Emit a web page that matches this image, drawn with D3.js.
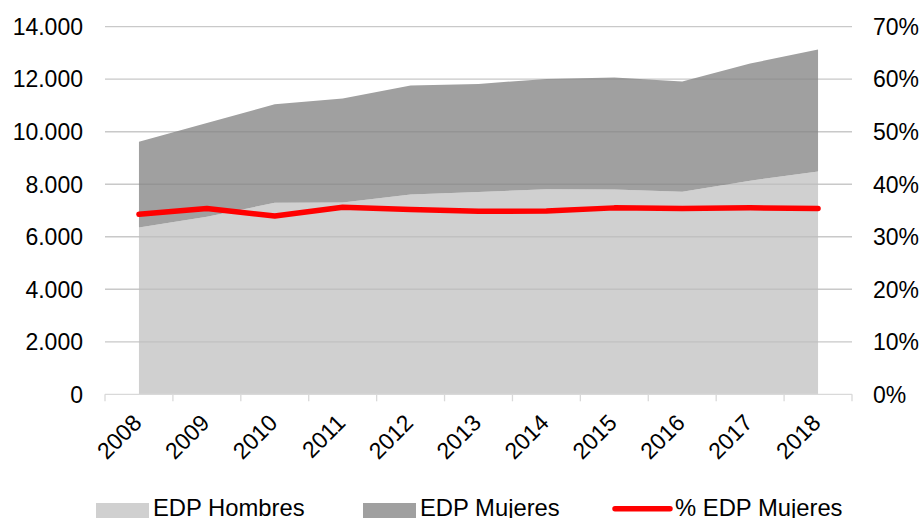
<!DOCTYPE html>
<html>
<head>
<meta charset="utf-8">
<script src="https://cdn.jsdelivr.net/npm/d3@7"></script>
<style>
  html, body { margin: 0; padding: 0; background: #fff; }
  svg { display: block; font-family: "Liberation Sans", Arial, sans-serif; }
</style>
</head>
<body>
<svg id="chart" width="923" height="518"></svg>
<script>
const years = ["2008","2009","2010","2011","2012","2013","2014","2015","2016","2017","2018"];
const edpHombres = [6356, 6760, 7292, 7300, 7612, 7700, 7814, 7802, 7711, 8137, 8487];
const edpMujeres = [3258, 3570, 3757, 3966, 4149, 4122, 4198, 4263, 4202, 4461, 4644];
const pctMujeres = [0.343, 0.354, 0.3395, 0.356, 0.352, 0.3485, 0.349, 0.355, 0.354, 0.355, 0.354];
const leftTicks = [0, 2000, 4000, 6000, 8000, 10000, 12000, 14000];
const rightTicks = [0, 0.1, 0.2, 0.3, 0.4, 0.5, 0.6, 0.7];
const seriesNames = ["EDP Hombres", "EDP Mujeres", "% EDP Mujeres"];

const svg = d3.select("#chart");
const plot = { left: 105, right: 852, top: 26.7, bottom: 394.3 };
const FONT = 23;
const LEGFONT = 23.8;

const x = d3.scaleBand().domain(years).range([plot.left, plot.right]).paddingInner(0).paddingOuter(0);
const cx = d => x(d) + x.bandwidth() / 2;
const yL = d3.scaleLinear().domain([0, 14000]).range([plot.bottom, plot.top]);
const yR = d3.scaleLinear().domain([0, 0.7]).range([plot.bottom, plot.top]);

const fmtL = v => d3.format(",")(v).replace(/,/g, ".");
const fmtR = d3.format(".0%");

// gridlines under
svg.append("g").selectAll("line").data(leftTicks.slice(1)).join("line")
  .attr("x1", plot.left).attr("x2", plot.right)
  .attr("y1", d => yL(d)).attr("y2", d => yL(d))
  .attr("stroke", "#d9d9d9").attr("stroke-width", 1.3);

// stacked areas
const rows = years.map((y, i) => ({ year: y, h: edpHombres[i], m: edpMujeres[i] }));
const stacked = d3.stack().keys(["h", "m"])(rows);
const area = d3.area()
  .x(d => cx(d.data.year))
  .y0(d => yL(d[0]))
  .y1(d => yL(d[1]));
const colors = ["#d0d0d0", "#a0a0a0"];
svg.append("g").selectAll("path").data(stacked).join("path")
  .attr("d", area)
  .attr("fill", (d, i) => colors[i]);

// gridlines overlay
svg.append("g").selectAll("line").data(leftTicks.slice(1)).join("line")
  .attr("x1", plot.left).attr("x2", plot.right)
  .attr("y1", d => yL(d)).attr("y2", d => yL(d))
  .attr("stroke", "rgba(0,0,0,0.07)").attr("stroke-width", 1.3);

// x axis line & ticks
const axG = svg.append("g");
axG.append("line").attr("x1", plot.left).attr("x2", plot.right)
  .attr("y1", plot.bottom).attr("y2", plot.bottom)
  .attr("stroke", "#d9d9d9").attr("stroke-width", 1.3);
const tickXs = years.map(y => x(y)).concat([plot.right]);
axG.selectAll("line.tk").data(tickXs).join("line").attr("class", "tk")
  .attr("x1", d => d).attr("x2", d => d)
  .attr("y1", plot.bottom).attr("y2", plot.bottom + 7)
  .attr("stroke", "#d9d9d9").attr("stroke-width", 1.3);

// x labels
svg.append("g").selectAll("text").data(years).join("text")
  .attr("transform", d => `translate(${cx(d) + 4},${plot.bottom + 30}) rotate(-45)`)
  .attr("text-anchor", "end")
  .attr("font-size", FONT)
  .attr("fill", "#000")
  .text(d => d);

// left labels
svg.append("g").selectAll("text").data(leftTicks).join("text")
  .attr("x", 83).attr("y", d => yL(d)).attr("dy", "0.36em")
  .attr("text-anchor", "end").attr("font-size", FONT).attr("fill", "#000")
  .text(fmtL);

// right labels
svg.append("g").selectAll("text").data(rightTicks).join("text")
  .attr("x", 873).attr("y", d => yR(d)).attr("dy", "0.36em")
  .attr("text-anchor", "start").attr("font-size", FONT).attr("fill", "#000")
  .text(fmtR);

// percentage line
const line = d3.line().x((d, i) => cx(years[i])).y(d => yR(d));
svg.append("path").datum(pctMujeres)
  .attr("d", line)
  .attr("fill", "none").attr("stroke", "#ff0000")
  .attr("stroke-width", 5.5).attr("stroke-linecap", "round").attr("stroke-linejoin", "round");

// legend
const leg = svg.append("g");
const legItems = [
  { name: seriesNames[0], type: "rect", color: colors[0], x0: 96, x1: 149, tx: 153 },
  { name: seriesNames[1], type: "rect", color: colors[1], x0: 363, x1: 416, tx: 420 },
  { name: seriesNames[2], type: "line", color: "#ff0000", x0: 615, x1: 670, tx: 675 }
];
legItems.forEach(it => {
  if (it.type === "rect") {
    leg.append("rect").attr("x", it.x0).attr("y", 503).attr("width", it.x1 - it.x0).attr("height", 15)
      .attr("fill", it.color);
  } else {
    leg.append("line").attr("x1", it.x0).attr("x2", it.x1).attr("y1", 508.7).attr("y2", 508.7)
      .attr("stroke", it.color).attr("stroke-width", 5.5).attr("stroke-linecap", "round");
  }
  leg.append("text").attr("x", it.tx).attr("y", 516.3).attr("font-size", LEGFONT).attr("fill", "#000")
    .text(it.name);
});
</script>
</body>
</html>
